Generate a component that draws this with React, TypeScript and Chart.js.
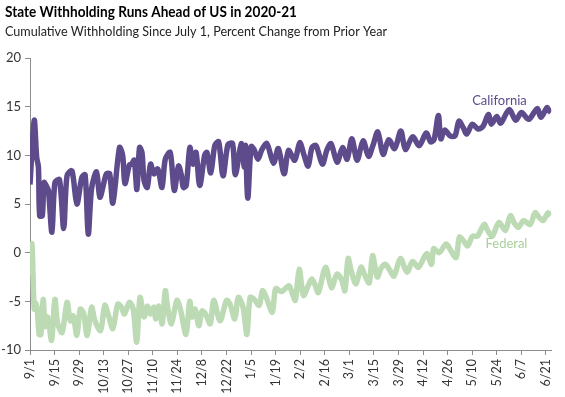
import { useEffect, useRef } from "react";
import { Chart, registerables } from "chart.js";

Chart.register(...registerables);

const titleText = "State Withholding Runs Ahead of US in 2020-21";
const subtitleText = "Cumulative Withholding Since July 1, Percent Change from Prior Year";

const tickLabels = [
  "9/1", "9/15", "9/29", "10/13", "10/27", "11/10", "11/24", "12/8", "12/22", "1/5", "1/19",
  "2/2", "2/16", "3/1", "3/15", "3/29", "4/12", "4/26", "5/10", "5/24", "6/7", "6/21",
];

// days since 9/1
const caDays = [
  0, 2.4, 3.8, 4.8, 5.5, 7.0, 8.0, 9.5, 10.5, 12.5, 14.2, 16.8, 19.2, 21.1, 23.9, 26.7, 29.5, 31.4,
  33.2, 35.1, 37.9, 39.8, 42.0, 43.5, 45.4, 47.2, 51.0, 52.8, 54.1, 56.6, 57.9, 59.4, 60.9, 62.4,
  63.8, 65.0, 66.8, 68.7, 70.6, 72.8, 75.2, 77.1, 79.9, 82.2, 84.6, 86.2, 87.4, 89.0, 91.1, 92.9,
  94.6, 96.7, 99.5, 100.8, 103.0, 105.3, 107.5, 110.0, 112.8, 115.4, 117.0, 120.4, 122.1, 122.8,
  124.1, 126.0, 127.7, 129.9, 132.2, 135.0, 138.7, 141.5, 144.8, 147.3, 150.9, 153.7, 156.2, 158.5,
  160.7, 163.0, 166.6, 169.1, 171.5, 175.0, 178.1, 180.7, 183.4, 186.4, 189.8, 192.9, 195.4, 198.2,
  201.2, 204.4, 207.8, 211.3, 213.9, 218.0, 221.8, 225.8, 228.2, 230.2, 232.7, 234.1, 236.3, 239.4,
  242.2, 244.4, 247.0, 248.9, 252.0, 255.4, 258.2, 261.2, 262.9, 266.0, 268.2, 273.0, 276.8, 280.0,
  284.2, 289.0, 291.2, 294.6, 295.7, 296.8,
];
const caValues = [
  7.0, 13.6, 9.8, 8.8, 3.8, 3.8, 7.2, 6.8, 6.4, 2.1, 7.2, 7.5, 2.5, 7.9, 8.4, 5.0, 7.7, 8.0,
  1.9, 6.6, 8.3, 5.7, 7.1, 8.1, 8.1, 5.1, 10.8, 10.0, 7.1, 9.0, 9.1, 9.5, 6.5, 10.8,
  10.3, 7.4, 6.7, 9.1, 8.1, 8.6, 6.7, 9.6, 10.3, 6.4, 8.9, 8.0, 6.7, 6.9, 10.8, 9.1,
  10.3, 6.9, 10.0, 10.3, 8.2, 11.0, 11.4, 7.9, 11.1, 11.2, 8.0, 11.2, 8.8, 11.0,
  5.6, 10.9, 10.6, 9.6, 10.6, 11.2, 9.2, 10.7, 8.1, 10.5, 9.5, 11.3, 10.0, 8.9,
  10.8, 11.0, 9.1, 10.5, 11.2, 9.3, 10.8, 9.6, 11.7, 9.5, 11.5, 9.9, 11.0, 12.4,
  10.1, 11.6, 10.7, 12.5, 10.6, 11.9, 11.0, 12.3, 11.4, 11.6, 14.1, 11.7, 12.6, 12.0,
  12.0, 13.5, 12.8, 12.2, 13.2, 12.7, 13.0, 14.2, 13.2, 14.0, 13.3, 14.7, 13.6, 14.4,
  13.7, 14.8, 13.9, 14.9, 14.6, 14.4,
];

const fedDays = [
  0, 1.1, 2.4, 3.4, 4.2, 5.2, 6.2, 7.5, 8.6, 9.8, 10.6, 12.3, 14.2, 15.7, 18.3, 21.1, 23.0, 24.6,
  26.7, 28.6, 30.5, 32.6, 35.1, 37.0, 40.2, 42.6, 44.8, 47.2, 50.0, 52.1, 53.8, 56.6, 58.8, 60.8,
  62.7, 65.0, 66.8, 68.6, 70.6, 71.7, 73.4, 75.3, 77.1, 78.4, 80.6, 83.7, 85.7, 88.9, 91.0, 92.4,
  94.1, 96.2, 98.0, 100.0, 102.7, 104.7, 108.3, 112.0, 114.0, 116.7, 118.7, 121.4, 123.6, 125.4,
  127.7, 130.6, 132.5, 134.4, 138.1, 140.0, 143.4, 147.5, 149.5, 151.2, 153.4, 155.8, 158.5, 160.6,
  162.4, 164.3, 168.4, 171.8, 174.9, 177.6, 179.4, 181.3, 183.2, 185.8, 188.6, 191.0, 193.3, 195.2,
  197.9, 200.0, 202.6, 205.0, 207.4, 211.1, 214.8, 218.0, 221.4, 226.0, 228.8, 230.0, 233.1, 237.2,
  239.8, 242.8, 244.7, 247.1, 249.4, 252.2, 255.0, 258.8, 261.0, 263.4, 267.2, 270.9, 273.7, 276.1,
  278.4, 281.2, 285.0, 287.8, 290.2, 292.4, 295.2, 296.8,
];
const fedValues = [
  -2.3, 0.9, -5.8, -5.2, -6.0, -8.4, -8.4, -4.8, -7.6, -6.6, -7.0, -9.0, -4.8, -7.2, -8.2, -5.1, -7.0, -6.5,
  -8.5, -5.8, -6.2, -8.5, -5.6, -7.0, -8.0, -5.4, -6.5, -7.8, -5.3, -5.6, -6.3, -5.1, -5.8, -9.2,
  -4.6, -6.6, -5.5, -6.3, -5.6, -6.8, -5.5, -7.3, -3.9, -5.6, -7.3, -4.9, -5.8, -8.4, -5.0, -6.6,
  -5.8, -7.5, -6.0, -6.3, -7.3, -4.9, -7.0, -4.9, -5.3, -6.8, -4.6, -5.6, -8.4, -4.6,
  -4.8, -5.4, -3.9, -4.5, -6.1, -3.7, -4.0, -3.4, -4.2, -4.9, -1.7, -4.4, -3.4, -2.7,
  -3.3, -4.1, -1.5, -3.6, -2.2, -2.8, -3.9, -0.6, -2.0, -3.2, -1.5, -2.4, -3.1, -0.3,
  -2.5, -1.6, -1.2, -1.8, -2.4, -0.6, -2.0, -0.9, -1.5, -0.1, -1.2, 0.4, 0.0, 0.9,
  0.2, -0.5, 1.6, 1.2, 0.7, 1.7, 1.7, 2.9, 2.2, 1.7, 3.1, 2.3, 3.8, 3.0,
  2.6, 3.3, 2.9, 4.1, 3.6, 3.3, 4.1, 3.8,
];

const CA_COLOR = "#5d4b8c";
const FED_COLOR = "#bcdab4";
const AXIS_COLOR = "#8c8c8c";
const FONT = "Lato, 'Open Sans', sans-serif";

const textPlugin = {
  id: "textLabels",
  afterDraw(chart: any) {
    const { ctx, scales } = chart;
    const drawFit = (text: string, x: number, y: number, font: string, color: string, width: number) => {
      ctx.save();
      ctx.font = font;
      ctx.fillStyle = color;
      ctx.textBaseline = "alphabetic";
      ctx.textAlign = "left";
      const w = ctx.measureText(text).width;
      const sx = width / w;
      ctx.translate(x, y);
      ctx.scale(sx, 1);
      ctx.fillText(text, 0, 0);
      ctx.restore();
    };
    drawFit(titleText, 5, 17, `bold 15px ${FONT}`, "#000", 292);
    drawFit(subtitleText, 5, 36, `14px ${FONT}`, "#222", 382);

    const xs = scales.x;
    const ys = scales.y;
    ctx.save();
    ctx.textAlign = "center";
    ctx.textBaseline = "middle";
    ctx.font = `13px ${FONT}`;
    ctx.fillStyle = CA_COLOR;
    ctx.fillText("California", xs.getPixelForValue(267.5), ys.getPixelForValue(15.6));
    ctx.fillStyle = "#a9cf9c";
    ctx.fillText("Federal", xs.getPixelForValue(271.5), ys.getPixelForValue(0.9));
    ctx.restore();
  },
};

export default function App() {
  const canvasRef = useRef<HTMLCanvasElement | null>(null);

  useEffect(() => {
    document.body.style.margin = "0";
    document.body.style.overflow = "hidden";
    const canvas = canvasRef.current;
    if (!canvas) return;
    const chart = new Chart(canvas, {
      type: "line",
      data: {
        datasets: [
          {
            label: "Federal",
            data: fedDays.map((d, i) => ({ x: d, y: fedValues[i] })),
            borderColor: FED_COLOR,
            borderWidth: 5.5,
            pointRadius: 0,
            tension: 0.3,
            fill: false,
          },
          {
            label: "California",
            data: caDays.map((d, i) => ({ x: d, y: caValues[i] })),
            borderColor: CA_COLOR,
            borderWidth: 5.5,
            pointRadius: 0,
            tension: 0.3,
            fill: false,
          },
        ],
      },
      options: {
        animation: false,
        responsive: true,
        maintainAspectRatio: false,
        layout: { padding: { top: 58, right: 5, bottom: 0, left: 0 } },
        plugins: {
          legend: { display: false },
          tooltip: { enabled: false },
          title: { display: false },
        },
        scales: {
          x: {
            type: "linear",
            min: 0,
            max: 297,
            afterFit: (scale: any) => {
              scale.height = 47;
            },
            afterBuildTicks: (scale: any) => {
              scale.ticks = tickLabels.map((_, i) => ({ value: i * 14 }));
            },
            ticks: {
              autoSkip: false,
              maxRotation: 90,
              minRotation: 90,
              padding: 4,
              color: "#333",
              font: { family: FONT, size: 12.5 },
              callback: (v: any) => tickLabels[Math.round(Number(v) / 14)] ?? "",
            },
            grid: { drawOnChartArea: false, drawTicks: true, tickLength: 5, color: AXIS_COLOR },
            border: { color: AXIS_COLOR, width: 1 },
          },
          y: {
            min: -10,
            max: 20,
            afterFit: (scale: any) => {
              scale.width = 30;
            },
            ticks: {
              stepSize: 5,
              padding: 4,
              color: "#333",
              font: { family: FONT, size: 13 },
            },
            grid: { drawOnChartArea: false, drawTicks: true, tickLength: 5, color: AXIS_COLOR },
            border: { color: AXIS_COLOR, width: 1 },
          },
        },
      },
      plugins: [textPlugin],
    });
    return () => chart.destroy();
  }, []);

  return (
    <div style={{ position: "relative", width: 565, height: 397, background: "#fff" }}>
      <canvas ref={canvasRef} />
    </div>
  );
}
